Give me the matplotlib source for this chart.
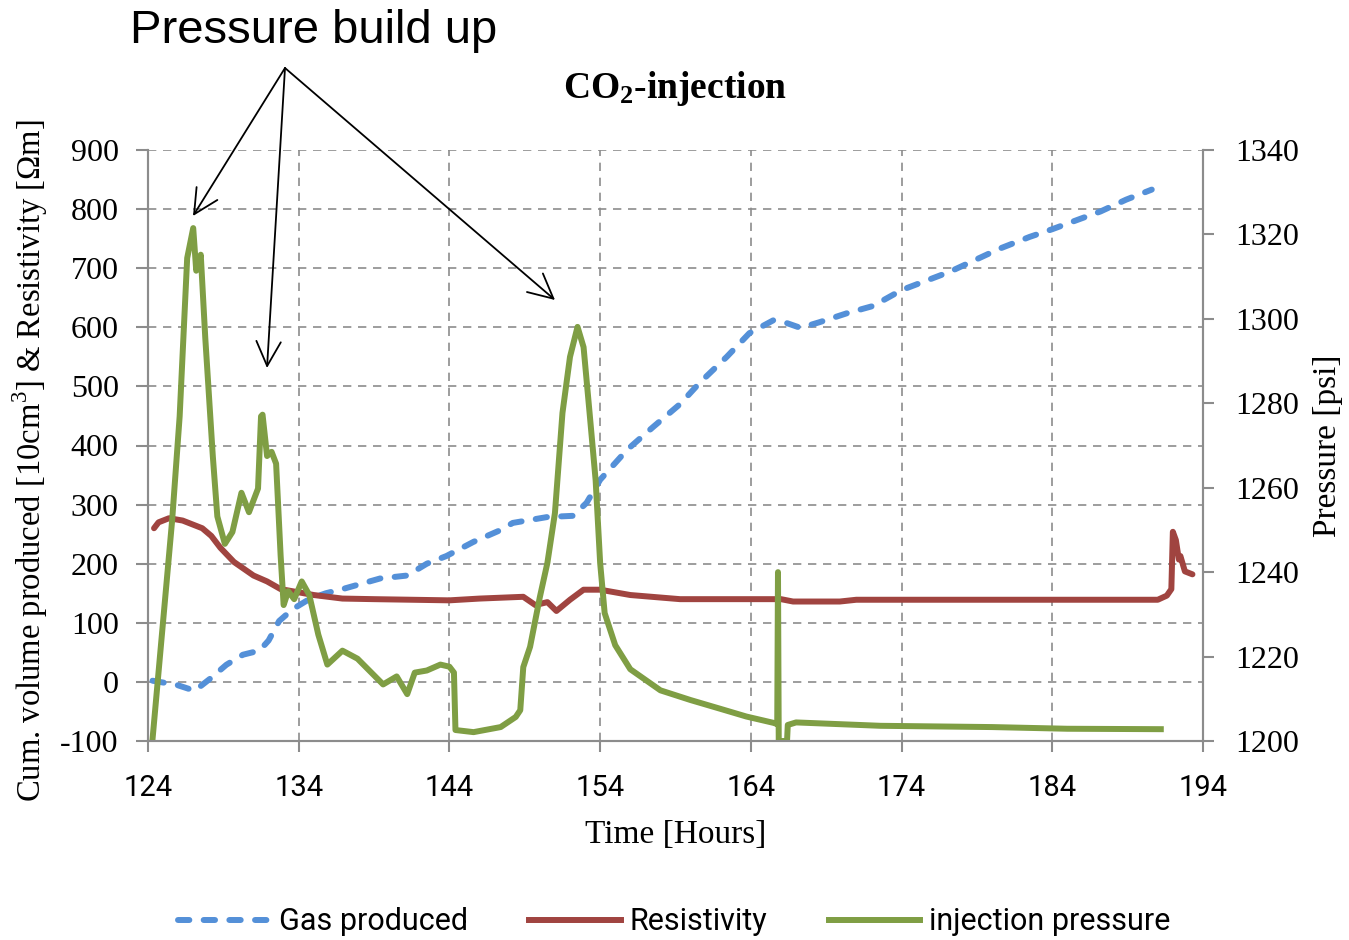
import numpy as np
import matplotlib.pyplot as plt
from matplotlib.lines import Line2D
from matplotlib.patches import FancyArrowPatch

# gas produced (left axis)
t_gas = [124.3, 125.9, 127.1, 128.1, 129.2, 130.3, 131.4, 132.0, 132.7, 133.6, 134.7, 135.8,
         136.9, 139.4, 141.2, 142.5, 143.8, 145.6, 147.4, 148.2, 150.5, 152.2, 153.1, 154.0,
         155.8, 157.5, 159.3, 160.6, 162.4, 163.9, 165.5, 166.4, 167.3, 168.6, 170.4, 172.1,
         174.0, 177.2, 180.5, 182.5, 184.0, 185.8, 187.2, 188.9, 190.6]
gas = [2, -5, -15, 5, 29, 46, 53, 70, 103, 123, 140, 150,
       157, 175, 180, 200, 213, 237, 257, 269, 279, 281, 303, 342,
       393, 431, 470, 506, 550, 590, 612, 607, 599, 609, 624, 636,
       663, 694, 733, 753, 766, 783, 796, 816, 833]

# resistivity (left axis)
t_res = [124.4, 124.7, 125.4, 126.3, 127.6, 128.2, 128.8, 129.7, 131.0, 131.9, 132.8, 133.9,
         135.0, 136.9, 139.0, 144.0, 146.0, 148.9, 149.7, 150.5, 151.1, 152.0, 152.9, 154.0,
         156.0, 159.3, 166.0, 166.8, 169.9, 171.0, 191.0, 191.6, 191.9, 192.0, 192.2, 192.4,
         192.5, 192.8, 193.3]
res = [260, 270, 277, 273, 260, 247, 227, 203, 180, 170, 157, 152,
       147, 141, 140, 138, 141, 144, 130, 135, 120, 139, 156, 156,
       147, 140, 140, 136, 136, 139, 139, 146, 157, 254, 240, 207,
       213, 187, 182]

# injection pressure (right axis)
t_p = [124.3, 125.6, 126.1, 126.6, 127.0, 127.2, 127.5, 127.8, 128.3, 128.6, 129.1, 129.6,
       130.2, 130.7, 131.3, 131.5, 131.6, 131.9, 132.2, 132.5, 132.8, 133.0, 133.3, 133.7,
       134.2, 134.7, 135.3, 135.9, 136.9, 137.9, 139.6, 140.5, 141.2, 141.7, 142.5, 143.4,
       144.0, 144.3, 144.4, 145.6, 147.4, 148.4, 148.7, 148.9, 149.35, 150.0, 150.5, 151.0,
       151.5, 152.0, 152.5, 152.9, 153.3, 153.7, 154.0, 154.3, 155.0, 156.0, 158.0, 160.0,
       162.0, 163.7, 165.5, 165.75, 165.8, 165.85, 166.4, 166.45, 167.0, 172.6, 180.0, 185.0,
       191.2]
p = [1200.4, 1252.2, 1276.9, 1314.4, 1321.5, 1311.4, 1315.2, 1295.5, 1267.5, 1253.2, 1246.7, 1249.5,
     1258.8, 1254.2, 1259.8, 1276.9, 1277.3, 1267.5, 1268.5, 1265.7, 1243.9, 1232.2, 1235.5, 1233.6,
     1237.8, 1234.6, 1225.2, 1218.1, 1221.4, 1219.5, 1213.4, 1215.3, 1211.1, 1216.2, 1216.7, 1218.1,
     1217.6, 1216.2, 1202.6, 1202.1, 1203.3, 1205.7, 1207.3, 1217.5, 1222.3, 1234.1, 1242.2, 1254.0,
     1277.7, 1291.0, 1298.1, 1293.3, 1277.7, 1261.8, 1242.2, 1230.3, 1222.7, 1217.0, 1212.0, 1209.7,
     1207.6, 1205.8, 1204.3, 1204.0, 1240.0, 1200.0, 1200.0, 1203.8, 1204.4, 1203.6, 1203.3, 1202.9,
     1202.8]

blue = '#5490d8'
red = '#a04440'
green = '#7f9e44'
gray = '#8c8c8c'

plt.rcParams['axes.unicode_minus'] = False
plt.rcParams['mathtext.fontset'] = 'custom'
plt.rcParams['mathtext.rm'] = 'Liberation Serif'
plt.rcParams['mathtext.bf'] = 'Liberation Serif:bold'
serif = 'Liberation Serif'
narrow = ['Roboto', 'DejaVu Sans']

fig = plt.figure(figsize=(13.49, 9.4), dpi=100)
ax = fig.add_axes([148/1349, 199/940, 1055/1349, 591/940])
ax2 = ax.twinx()

dash = (0, (1.9, 2.4))
ax.plot(t_gas, gas, color=blue, lw=4.3, linestyle=dash, dash_capstyle='round')
ax.plot(t_res, res, color=red, lw=4.3, solid_capstyle='round')
ax2.plot(t_p, p, color=green, lw=4.3, solid_joinstyle='round')

ax.set_xlim(124, 194)
ax.set_ylim(-100, 900)
ax2.set_ylim(1200, 1340)
ax.set_xticks(np.arange(124, 195, 10))
ax.set_yticks(np.arange(-100, 901, 100))
ax2.set_yticks(np.arange(1200, 1341, 20))

ax.grid(True, color=gray, linestyle=(0, (5, 4)), lw=1.2)
ax.spines['top'].set_visible(False)
ax2.spines['top'].set_visible(False)
for a in (ax, ax2):
    for s in ['left', 'right', 'bottom']:
        a.spines[s].set_color(gray)
        a.spines[s].set_linewidth(1.5)

ax.tick_params(axis='y', direction='out', length=9, color=gray, width=1.5, pad=12, labelsize=23)
ax.tick_params(axis='x', direction='out', length=8, color=gray, width=1.5, pad=16, labelsize=21)
ax2.tick_params(axis='y', direction='out', length=8, color=gray, width=1.5, pad=15, labelsize=23)
for lab in ax.get_yticklabels() + ax2.get_yticklabels():
    lab.set_family(serif)
for lab in ax.get_xticklabels():
    lab.set_family(narrow)

ax.set_xlabel('Time [Hours]', family=serif, fontsize=24, labelpad=12)
ax.set_ylabel('Cum. volume produced [10cm$^3$] & Resistivity [\u03a9m]', family=serif,
              fontsize=23.5)
ax.yaxis.set_label_coords(-98/1055, 0.475)
ax2.set_ylabel('Pressure [psi]', family=serif, fontsize=24, labelpad=10)
ax.set_title(r'$\mathbf{CO_2}$-injection', family=serif, fontweight='bold', fontsize=27,
             y=1 + 62/591, pad=0, va='center')

# annotation
fig.text(130/1349, 1 - 31/940, 'Pressure build up', family='Liberation Sans', fontsize=34,
         ha='left', va='center')
src = (285/1349, 1 - 68/940)
for tx, ty in [(193, 216), (267, 368), (555, 300)]:
    fig.add_artist(FancyArrowPatch(
        src, (tx/1349, 1 - ty/940), transform=fig.transFigure,
        arrowstyle='->,head_length=0.8,head_width=0.4', mutation_scale=22,
        lw=1.3, color='black', shrinkA=0, shrinkB=0))

handles = [Line2D([], [], color=blue, lw=4.3, linestyle=dash, dash_capstyle='round'),
           Line2D([], [], color=red, lw=4.3),
           Line2D([], [], color=green, lw=4.3)]
fig.legend(handles, ['Gas produced', 'Resistivity', 'injection pressure'], loc='center',
           bbox_to_anchor=(0.5, 1 - 922/940), ncol=3, frameon=False,
           prop={'family': narrow, 'size': 22}, handlelength=3.0, columnspacing=2.0,
           handletextpad=0.3)

fig.savefig('out.png', dpi=100)
